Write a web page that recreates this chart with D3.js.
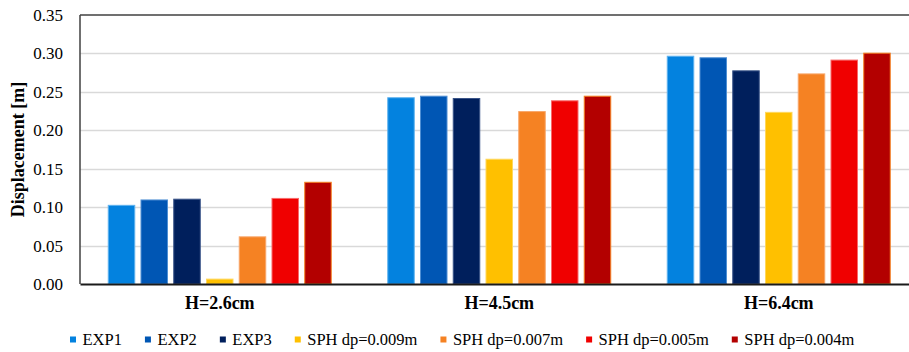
<!DOCTYPE html>
<html>
<head>
<meta charset="utf-8">
<script src="https://cdn.jsdelivr.net/npm/d3@7"></script>
<style>
  html, body { margin: 0; padding: 0; background: #ffffff; }
  svg { display: block; }
  svg text { font-family: "Times New Roman", "Liberation Serif", Times, "DejaVu Serif", serif !important; fill: #000; }
</style>
</head>
<body>
<svg id="chart" width="909" height="352"></svg>
<script>
// Wave heights tested
const categories = ["H=2.6cm", "H=4.5cm", "H=6.4cm"];

// Series names (experiments and SPH resolutions)
const seriesNames = ["EXP1", "EXP2", "EXP3", "SPH dp=0.009m", "SPH dp=0.007m", "SPH dp=0.005m", "SPH dp=0.004m"];

// Displacement [m] per series, one value per wave height
const exp1   = [0.103, 0.243, 0.297];
const exp2   = [0.110, 0.245, 0.295];
const exp3   = [0.111, 0.242, 0.278];
const sph009 = [0.007, 0.163, 0.224];
const sph007 = [0.062, 0.225, 0.274];
const sph005 = [0.112, 0.239, 0.292];
const sph004 = [0.133, 0.245, 0.301];

const yTicks = [0, 0.05, 0.10, 0.15, 0.20, 0.25, 0.30, 0.35];

const fills   = ["#0382df", "#0056b4", "#001f5c", "#ffc000", "#f58223", "#f00000", "#b30000"];
const strokes = ["#5fb2ef", "#4f8fd4", "#3a5488", "#ffd75c", "#f8a66a", "#f86a6a", "#f58223"];

const seriesValues = [exp1, exp2, exp3, sph009, sph007, sph005, sph004];

const svg = d3.select("#chart");
const margin = { left: 80, top: 15, right: 918.5, bottom: 284 };

const x0 = d3.scaleBand()
  .domain(categories)
  .range([margin.left, margin.right])
  .paddingInner(0)
  .paddingOuter(0);

const x1 = d3.scaleBand()
  .domain(seriesNames)
  .range([27.75, x0.bandwidth() - 27.75])
  .paddingInner(0.16)
  .paddingOuter(0);

const y = d3.scaleLinear()
  .domain([0, 0.35])
  .range([margin.bottom, margin.top]);

// Horizontal gridlines
svg.append("g")
  .selectAll("line")
  .data(yTicks.filter(t => t > 0 && t < 0.35))
  .join("line")
  .attr("x1", margin.left)
  .attr("x2", margin.right)
  .attr("y1", d => Math.round(y(d)) + 0.5)
  .attr("y2", d => Math.round(y(d)) + 0.5)
  .attr("stroke", "#d9d9d9")
  .attr("stroke-width", 1.3);

// Bars
const groups = svg.append("g")
  .selectAll("g")
  .data(categories)
  .join("g")
  .attr("transform", d => `translate(${x0(d)},0)`);

groups.selectAll("rect")
  .data((c, ci) => seriesNames.map((s, si) => ({ s, si, v: seriesValues[si][ci] })))
  .join("rect")
  .attr("x", d => x1(d.s) + 0.5)
  .attr("width", x1.bandwidth() - 1)
  .attr("y", d => y(d.v) + 0.5)
  .attr("height", d => y(0) - y(d.v) - 0.5)
  .attr("fill", d => fills[d.si])
  .attr("stroke", d => strokes[d.si])
  .attr("stroke-width", 1);

// Plot frame: top and left edges
svg.append("line")
  .attr("x1", margin.left).attr("x2", margin.right)
  .attr("y1", margin.top).attr("y2", margin.top)
  .attr("stroke", "#404040").attr("stroke-width", 1.5);
svg.append("line")
  .attr("x1", margin.left).attr("x2", margin.left)
  .attr("y1", margin.top).attr("y2", margin.bottom)
  .attr("stroke", "#404040").attr("stroke-width", 1.5);

// Y axis tick labels
const yAxis = d3.axisLeft(y)
  .tickValues(yTicks)
  .tickFormat(d3.format(".2f"))
  .tickSize(0)
  .tickPadding(17);
const yg = svg.append("g")
  .attr("transform", `translate(${margin.left},0)`)
  .call(yAxis)
  .attr("font-family", null);
yg.select(".domain").remove();
yg.selectAll("text")
  .attr("font-size", 17)
  .attr("fill", "#000");

// X axis (category labels + baseline)
const xAxis = d3.axisBottom(x0).tickSize(0).tickPadding(12);
const xg = svg.append("g")
  .attr("transform", `translate(0,${margin.bottom})`)
  .call(xAxis)
  .attr("font-family", null);
xg.select(".domain")
  .attr("stroke", "#1a1a1a")
  .attr("stroke-width", 1.8);
xg.selectAll("text")
  .attr("font-size", 18)
  .attr("font-weight", "bold")
  .attr("fill", "#000");

// Y axis title
svg.append("text")
  .attr("transform", `translate(24,${(margin.top + margin.bottom) / 2}) rotate(-90)`)
  .attr("text-anchor", "middle")
  .attr("font-size", 18)
  .attr("font-weight", "bold")
  .text("Displacement [m]");

// Legend
const legend = svg.append("g").attr("transform", "translate(70,0)");
let lx = 0;
seriesNames.forEach((name, i) => {
  const item = legend.append("g").attr("transform", `translate(${lx},0)`);
  item.append("rect")
    .attr("x", 0).attr("y", 336.5)
    .attr("width", 6).attr("height", 6)
    .attr("fill", fills[i]);
  const t = item.append("text")
    .attr("x", 12.5).attr("y", 344.5)
    .attr("font-size", 16.5)
    .text(name);
  const w = t.node().getComputedTextLength();
  lx += 12.5 + w + 23;
});
</script>
</body>
</html>
